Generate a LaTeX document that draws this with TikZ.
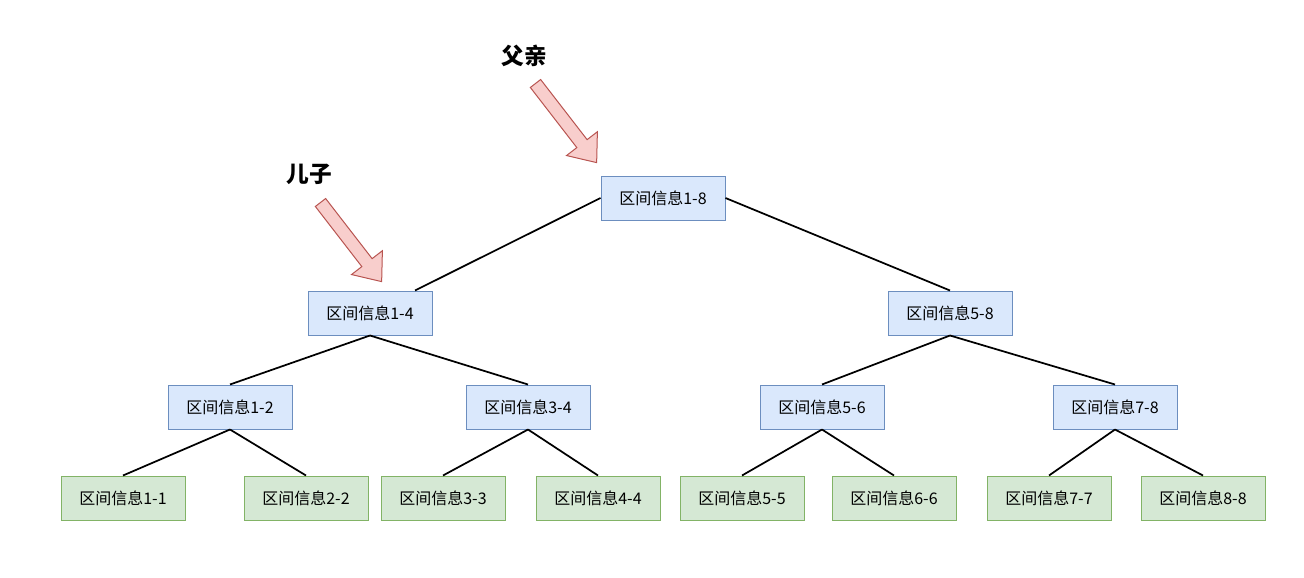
\documentclass[tikz,border=0pt]{standalone}
\usepackage{fontspec}
\setmainfont{Noto Sans CJK SC}
\usepackage{xcolor}
\usetikzlibrary{calc}
\definecolor{segblue}{HTML}{DAE8FC}
\definecolor{segbluedark}{HTML}{6C8EBF}
\definecolor{seggreen}{HTML}{D5E8D4}
\definecolor{seggreendark}{HTML}{82B366}
\definecolor{segred}{HTML}{F8CECC}
\definecolor{segreddark}{HTML}{B85450}
\tikzset{
  seg/.style={draw, line width=0.75pt, minimum width=93pt, minimum height=33pt,
              inner sep=0pt, font=\fontsize{12}{14}\selectfont},
  inner/.style={seg, fill=segblue, draw=segbluedark},
  leaf/.style={seg, fill=seggreen, draw=seggreendark},
  link/.style={line width=1.3pt, draw=black},
  tag/.style={font=\fontsize{17}{20}\selectfont\bfseries},
  pointer/.pic={
    \draw[fill=segred, draw=segreddark, line width=0.75pt]
      (0,-6.5) -- (76,-6.5) -- (76,-19.5) -- (100,0) -- (76,19.5)
      -- (76,6.5) -- (0,6.5) -- cycle;
  },
}

\begin{document}
\begin{tikzpicture}[x=0.75pt, y=-0.75pt]
  \useasboundingbox (0,0) rectangle (1304,578);

  % internal nodes
  \node[inner] (n18) at (663,198) {区间信息1-8};
  \node[inner] (n14) at (370,313) {区间信息1-4};
  \node[inner] (n58) at (950,313) {区间信息5-8};
  \node[inner] (n12) at (230,407) {区间信息1-2};
  \node[inner] (n34) at (528,407) {区间信息3-4};
  \node[inner] (n56) at (822,407) {区间信息5-6};
  \node[inner] (n78) at (1115,407) {区间信息7-8};

  % leaves
  \node[leaf] (n11) at (123,498) {区间信息1-1};
  \node[leaf] (n22) at (306,498) {区间信息2-2};
  \node[leaf] (n33) at (443,498) {区间信息3-3};
  \node[leaf] (n44) at (598,498) {区间信息4-4};
  \node[leaf] (n55) at (742,498) {区间信息5-5};
  \node[leaf] (n66) at (894,498) {区间信息6-6};
  \node[leaf] (n77) at (1049,498) {区间信息7-7};
  \node[leaf] (n88) at (1203,498) {区间信息8-8};

  % tree edges
  \draw[link] (n18.west) -- ($(n14.north)+(45,0)$);
  \draw[link] (n18.east) -- (n58.north);
  \draw[link] (n14.south) -- (n12.north);
  \draw[link] (n14.south) -- (n34.north);
  \draw[link] (n58.south) -- (n56.north);
  \draw[link] (n58.south) -- (n78.north);
  \draw[link] (n12.south) -- (n11.north);
  \draw[link] (n12.south) -- (n22.north);
  \draw[link] (n34.south) -- (n33.north);
  \draw[link] (n34.south) -- (n44.north);
  \draw[link] (n56.south) -- (n55.north);
  \draw[link] (n56.south) -- (n66.north);
  \draw[link] (n78.south) -- (n77.north);
  \draw[link] (n78.south) -- (n88.north);

  % labels and pointers
  \node[tag] (parent) at (524,56) {父亲};
  \node[tag] (child) at (309,174) {儿子};
  \pic[rotate=-52.3] at (535.5,83.5) {pointer};
  \pic[rotate=-52.3] at (320.5,202.5) {pointer};
\end{tikzpicture}
\end{document}
